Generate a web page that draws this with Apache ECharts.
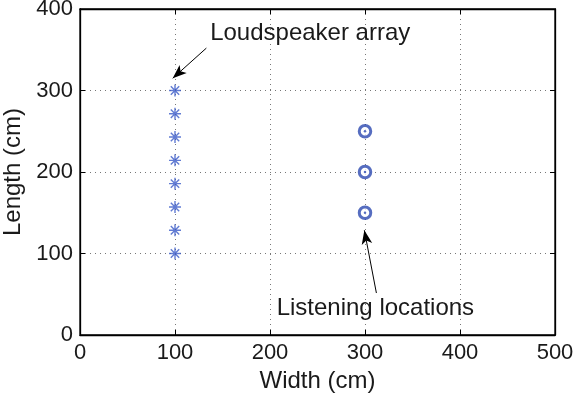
<!DOCTYPE html>
<html><head><meta charset="utf-8">
<script src="https://cdn.jsdelivr.net/npm/echarts@6/dist/echarts.min.js"></script>
<style>html,body{margin:0;padding:0;background:#fff}#c{width:577px;height:396px}</style>
</head><body><div id="c"></div>
<script>
const xTicks = [0, 100, 200, 300, 400, 500];
const yTicks = [0, 100, 200, 300, 400];
const speakerX = [100, 100, 100, 100, 100, 100, 100, 100];
const speakerY = [100, 128.6, 157.1, 185.7, 214.3, 242.9, 271.4, 300];
const listenX = [300, 300, 300];
const listenY = [150, 200, 250];
const xTitle = 'Width (cm)';
const yTitle = 'Length (cm)';
const note1 = {text: 'Loudspeaker array', from: [133, 352], to: [97.6, 315], at: [137, 370]};
const note2 = {text: 'Listening locations', from: [312, 51.5], to: [299.3, 128.5], at: [207, 33]};

const FONT = 'Liberation Sans, Arial, Helvetica, sans-serif';
const blue = '#2c48b0';
const TXT = '#1a1a1a';
const chart = echarts.init(document.getElementById('c'));
const speakers = speakerX.map((x, i) => [x, speakerY[i]]);
const listeners = listenX.map((x, i) => [x, listenY[i]]);
const baseX = {type: 'value', min: xTicks[0], max: xTicks[xTicks.length-1], interval: xTicks[1]-xTicks[0]};
const baseY = {type: 'value', min: yTicks[0], max: yTicks[yTicks.length-1], interval: yTicks[1]-yTicks[0]};
const line = {show: true, onZero: false, lineStyle: {color: '#000', width: 1.3}};
const tick = {show: true, inside: true, length: 5, lineStyle: {color: '#000'}};
const split = {show: true, lineStyle: {color: '#777', type: [1, 4], width: 1}};

function arrowLine(n) {
  return [{coord: n.from, symbol: 'none'}, {coord: n.to, symbol: 'arrow'}];
}

chart.setOption({
  animation: false,
  grid: {left: 80, right: 22, top: 9, bottom: 61, show: true, borderColor: '#000', borderWidth: 1.3,
    containLabel: false, outerBoundsMode: 'none'},
  xAxis: [
    Object.assign({}, baseX, {position: 'bottom', axisLine: line, axisTick: tick, splitLine: split,
      axisLabel: {color: TXT, fontFamily: FONT, fontSize: 22, margin: 7},
      name: xTitle, nameLocation: 'middle', nameGap: 29, nameTextStyle: {color: TXT, fontFamily: FONT, fontSize: 24}}),
    Object.assign({}, baseX, {position: 'top', axisLine: line, axisTick: tick, splitLine: {show: false}, axisLabel: {show: false}})
  ],
  yAxis: [
    Object.assign({}, baseY, {position: 'left', axisLine: line, axisTick: tick, splitLine: split,
      axisLabel: {color: TXT, fontFamily: FONT, fontSize: 22, margin: 7},
      name: yTitle, nameLocation: 'middle', nameGap: 48, nameTextStyle: {color: TXT, fontFamily: FONT, fontSize: 24}}),
    Object.assign({}, baseY, {position: 'right', axisLine: line, axisTick: tick, splitLine: {show: false}, axisLabel: {show: false}})
  ],
  series: [
    {type: 'scatter', data: speakers, symbol: 'path://M0,-5L0,5M-5,0L5,0M-3.5,-3.5L3.5,3.5M-3.5,3.5L3.5,-3.5',
      symbolSize: 12, itemStyle: {color: 'rgba(0,0,0,0)', borderColor: '#3a5ac8', borderWidth: 1.4},
      markLine: {silent: true, symbolSize: [8, 14], lineStyle: {color: '#000', width: 1, type: 'solid'},
        label: {show: false}, data: [arrowLine(note1), arrowLine(note2)]}},
    {type: 'scatter', data: listeners, symbol: 'circle', symbolSize: 11.5,
      itemStyle: {color: '#fff', borderColor: blue, borderWidth: 3}},
    {type: 'scatter', data: listeners, symbol: 'circle', symbolSize: 2.5, itemStyle: {color: blue}},
    {type: 'scatter', xAxisIndex: 1, yAxisIndex: 1, data: [], silent: true}
  ]
});

function place() {
  const p1 = chart.convertToPixel({xAxisIndex: 0, yAxisIndex: 0}, note1.at);
  const p2 = chart.convertToPixel({xAxisIndex: 0, yAxisIndex: 0}, note2.at);
  chart.setOption({graphic: [
    {type: 'text', x: p1[0], y: p1[1], style: {text: note1.text, fill: TXT, font: '24px ' + FONT, textVerticalAlign: 'middle'}},
    {type: 'text', x: p2[0], y: p2[1], style: {text: note2.text, fill: TXT, font: '24px ' + FONT, textVerticalAlign: 'middle'}}
  ]});
}
place();
</script></body></html>
